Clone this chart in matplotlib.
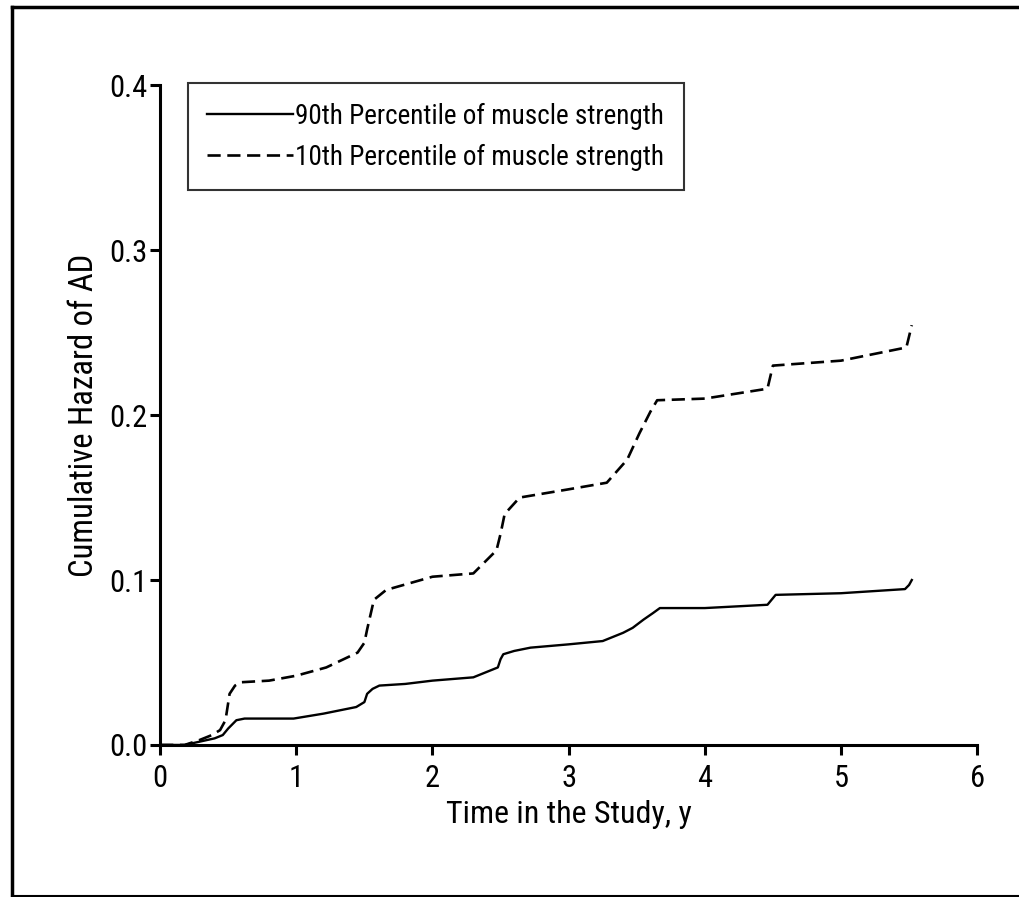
import matplotlib
matplotlib.use("Agg")
import matplotlib.pyplot as plt
from matplotlib.lines import Line2D
from matplotlib import font_manager as fm

# pick a condensed / narrow sans font if one is installed
prefs = ['liberationsansnarrow', 'robotocondensed', 'dejavusanscondensed',
         'notosans-condensed', 'opensanscondensed', 'opensans_condensed', 'condensed', 'narrow']
chosen = None
for key in prefs:
    for f in fm.fontManager.ttflist:
        fn = f.fname.lower().replace(' ', '').split('/')[-1]
        if key in fn and f.style == 'normal' and f.weight in (400, 'normal', 'regular') \
                and 'mono' not in fn and 'serif' not in fn and 'bold' not in fn and 'italic' not in fn:
            chosen = f
            break
    if chosen is not None:
        break

if chosen is not None:
    plt.rcParams['font.family'] = [chosen.name, 'DejaVu Sans']
    plt.rcParams['font.stretch'] = chosen.stretch
    SCALE = 1.0
else:
    plt.rcParams['font.family'] = ['DejaVu Sans']
    SCALE = 0.8

# 90th percentile of muscle strength (solid)
t90 = [0.0, 0.18, 0.29, 0.40, 0.46, 0.50, 0.56, 0.62, 0.66, 0.98, 1.20, 1.44, 1.50, 1.52, 1.56, 1.61, 1.80, 2.00, 2.30, 2.48, 2.50, 2.52, 2.60, 2.72, 3.00, 3.25, 3.40, 3.47, 3.55, 3.62, 3.67, 4.00, 4.46, 4.50, 4.52, 5.00, 5.47, 5.50, 5.52]
h90 = [0.0, 0.0, 0.002, 0.004, 0.006, 0.010, 0.015, 0.016, 0.016, 0.016, 0.019, 0.023, 0.026, 0.031, 0.034, 0.036, 0.037, 0.039, 0.041, 0.047, 0.052, 0.055, 0.057, 0.059, 0.061, 0.063, 0.068, 0.071, 0.076, 0.080, 0.083, 0.083, 0.085, 0.089, 0.091, 0.092, 0.0945, 0.097, 0.100]

# 10th percentile of muscle strength (dashed)
t10 = [0.0, 0.18, 0.29, 0.38, 0.44, 0.48, 0.51, 0.55, 0.59, 0.80, 1.00, 1.22, 1.45, 1.50, 1.52, 1.57, 1.66, 2.00, 2.30, 2.47, 2.50, 2.53, 2.64, 3.00, 3.28, 3.43, 3.52, 3.60, 3.65, 4.00, 4.46, 4.50, 5.00, 5.48, 5.52]
h10 = [0.0, 0.0, 0.003, 0.006, 0.009, 0.015, 0.031, 0.036, 0.038, 0.039, 0.042, 0.047, 0.056, 0.062, 0.070, 0.088, 0.094, 0.102, 0.104, 0.118, 0.128, 0.140, 0.150, 0.155, 0.159, 0.173, 0.189, 0.202, 0.209, 0.210, 0.216, 0.230, 0.233, 0.241, 0.2545]

labels = ["90th Percentile of muscle strength", "10th Percentile of muscle strength"]
xticks = [0, 1, 2, 3, 4, 5, 6]
yticks = [0.0, 0.1, 0.2, 0.3, 0.4]

fig = plt.figure(figsize=(10.2, 8.97), dpi=100)
ax = fig.add_axes([0.157, 0.1695, 0.801, 0.7355])

ax.plot(t90, h90, color='black', lw=1.7, linestyle='-', label=labels[0])
ax.plot(t10, h10, color='black', lw=1.9, linestyle=(0, (5, 2.5)), label=labels[1])

ax.set_xlim(0, 6)
ax.set_ylim(0, 0.4)
ax.set_xticks(xticks)
ax.set_xticklabels([str(v) for v in xticks])
ax.set_yticks(yticks)
ax.set_yticklabels([f"{v:.1f}" for v in yticks])
ax.spines['top'].set_visible(False)
ax.spines['right'].set_visible(False)
for s in ['left', 'bottom']:
    ax.spines[s].set_linewidth(2.2)
ax.tick_params(direction='out', length=7, width=2.2, labelsize=22 * SCALE)
ax.tick_params(axis='x', pad=7)
ax.tick_params(axis='y', pad=2)

ax.set_xlabel("Time in the Study, y", fontsize=23 * SCALE, labelpad=5)
ax.set_ylabel("Cumulative Hazard of AD", fontsize=23.5 * SCALE, labelpad=7)

leg = ax.legend(loc='upper left', bbox_to_anchor=(0.034, 1.003), fontsize=19.5 * SCALE,
                handlelength=3.15, handletextpad=0.1, frameon=True, fancybox=False,
                borderpad=0.72, labelspacing=0.52, borderaxespad=0)
leg.get_frame().set_edgecolor('black')
leg.get_frame().set_linewidth(1.5)

# outer frame of the figure
fig.add_artist(Line2D([12/1020, 12/1020], [1 - 7/897, 1 - 896/897], color='black', lw=2.5, transform=fig.transFigure))
fig.add_artist(Line2D([12/1020, 1.0], [1 - 7/897, 1 - 7/897], color='black', lw=2.5, transform=fig.transFigure))
fig.add_artist(Line2D([12/1020, 1.0], [1 - 896/897, 1 - 896/897], color='black', lw=1.5, transform=fig.transFigure))

fig.savefig("out.png", dpi=100)
